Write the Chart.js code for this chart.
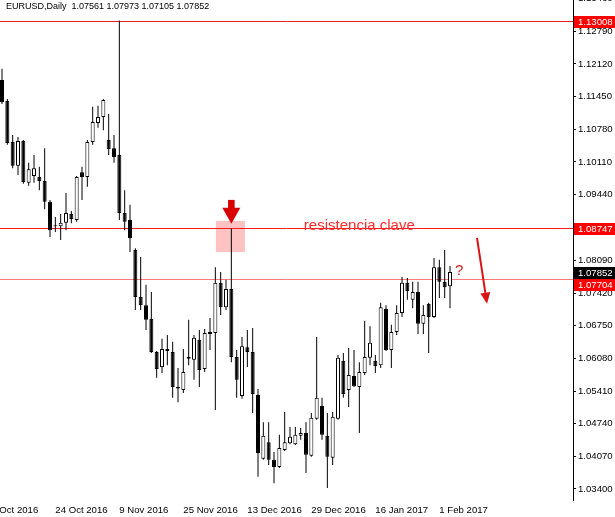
<!DOCTYPE html>
<html>
<head>
<meta charset="utf-8">
<title>EURUSD,Daily</title>
<script src="https://cdn.jsdelivr.net/npm/chart.js@4.4.0/dist/chart.umd.min.js"></script>
<style>
  html, body { margin: 0; padding: 0; background: #fff; }
  canvas { display: block; }
</style>
</head>
<body>
<canvas id="myChart" width="615" height="517"></canvas>
<script>
// EURUSD diario, velas (10 oct 2016 - 3 feb 2017)
let symbol = 'EURUSD,Daily';
let dates = [
  '2016.10.10','2016.10.11','2016.10.12','2016.10.13','2016.10.14',
  '2016.10.17','2016.10.18','2016.10.19','2016.10.20','2016.10.21',
  '2016.10.24','2016.10.25','2016.10.26','2016.10.27','2016.10.28',
  '2016.10.31','2016.11.01','2016.11.02','2016.11.03','2016.11.04',
  '2016.11.07','2016.11.08','2016.11.09','2016.11.10','2016.11.11',
  '2016.11.14','2016.11.15','2016.11.16','2016.11.17','2016.11.18',
  '2016.11.21','2016.11.22','2016.11.23','2016.11.24','2016.11.25',
  '2016.11.28','2016.11.29','2016.11.30','2016.12.01','2016.12.02',
  '2016.12.05','2016.12.06','2016.12.07','2016.12.08','2016.12.09',
  '2016.12.12','2016.12.13','2016.12.14','2016.12.15','2016.12.16',
  '2016.12.19','2016.12.20','2016.12.21','2016.12.22','2016.12.23',
  '2016.12.26','2016.12.27','2016.12.28','2016.12.29','2016.12.30',
  '2017.01.02','2017.01.03','2017.01.04','2017.01.05','2017.01.06',
  '2017.01.09','2017.01.10','2017.01.11','2017.01.12','2017.01.13',
  '2017.01.16','2017.01.17','2017.01.18','2017.01.19','2017.01.20',
  '2017.01.23','2017.01.24','2017.01.25','2017.01.26','2017.01.27',
  '2017.01.30','2017.01.31','2017.02.01','2017.02.02','2017.02.03'
];
let open = [
  1.1179,1.1136,1.1052,1.1003,1.1054, 1.0968,1.0982,1.0980,1.0972,1.0929,
  1.0881,1.0879,1.0886,1.0904,1.0892, 1.0990,1.0980,1.1052,1.1091,1.1103,
  1.1056,1.1039,1.1025,1.0906,1.0892, 1.0830,1.0734,1.0717,1.0689,1.0621,
  1.0590,1.0627,1.0621,1.0549,1.0543, 1.0607,1.0605,1.0646,1.0586,1.0658,
  1.0660,1.0763,1.0713,1.0750,1.0611, 1.0531,1.0631,1.0621,1.0533,1.0402,
  1.0436,1.0400,1.0385,1.0420,1.0434, 1.0432,1.0449,1.0455,1.0408,1.0484,
  1.0510,1.0449,1.0404,1.0484,1.0603, 1.0543,1.0572,1.0549,1.0578,1.0609,
  1.0603,1.0594,1.0709,1.0625,1.0662, 1.0701,1.0763,1.0728,1.0744,1.0679,
  1.0720,1.0693,1.0795,1.0765,1.07561
];
let high = [
  1.1202,1.1140,1.1066,1.1062,1.1056, 1.1009,1.1025,1.1001,1.1039,1.0933,
  1.0898,1.0904,1.0947,1.0910,1.0982, 1.1001,1.1056,1.1124,1.1126,1.1140,
  1.1109,1.1066,1.13008,1.0953,1.0923, 1.0834,1.0816,1.0759,1.0744,1.0623,
  1.0648,1.0656,1.0642,1.0588,1.0627, 1.0687,1.0656,1.0666,1.0668,1.0691,
  1.0795,1.0785,1.0769,1.08747,1.0625, 1.0652,1.0666,1.0670,1.0545,1.0477,
  1.0477,1.0416,1.0451,1.0498,1.0467, 1.0467,1.0465,1.0477,1.0496,1.0652,
  1.0527,1.0496,1.0498,1.0615,1.0619, 1.0629,1.0625,1.0600,1.0685,1.0674,
  1.0615,1.0722,1.0717,1.0677,1.0717, 1.0775,1.0773,1.0765,1.0765,1.0717,
  1.0722,1.0814,1.0810,1.0830,1.07973
];
let low = [
  1.1130,1.1046,1.0998,1.0984,1.0966, 1.0962,1.0968,1.0953,1.0914,1.0857,
  1.0867,1.0851,1.0871,1.0885,1.0888, 1.0933,1.0960,1.1046,1.1081,1.1076,
  1.1025,1.1009,1.0892,1.0871,1.0826, 1.0707,1.0707,1.0666,1.0619,1.0568,
  1.0578,1.0594,1.0527,1.0518,1.0537, 1.0594,1.0564,1.0549,1.0580,1.0625,
  1.0502,1.0697,1.0707,1.0600,1.0527, 1.0525,1.0590,1.0496,1.0365,1.0400,
  1.0389,1.0352,1.0383,1.0418,1.0432, 1.0430,1.0441,1.0373,1.0406,1.0482,
  1.0441,1.0342,1.0389,1.0482,1.0527, 1.0508,1.0549,1.0455,1.0574,1.0594,
  1.0578,1.0588,1.0623,1.0588,1.0656, 1.0693,1.0728,1.0711,1.0658,1.0658,
  1.0619,1.0691,1.0732,1.0732,1.07105
];
let close = [
  1.1134,1.1050,1.1003,1.1054,1.0970, 1.0996,1.0998,1.0972,1.0929,1.0871,
  1.0879,1.0886,1.0906,1.0894,1.0980, 1.0980,1.1052,1.1093,1.1103,1.1138,
  1.1037,1.1021,1.0906,1.0888,1.0855, 1.0734,1.0717,1.0687,1.0621,1.0586,
  1.0627,1.0623,1.0549,1.0546,1.0580, 1.0611,1.0650,1.0584,1.0660,1.0662,
  1.0763,1.0713,1.0750,1.0611,1.0564, 1.0633,1.0621,1.0535,1.0414,1.0449,
  1.0400,1.0385,1.0424,1.0436,1.0447, 1.0451,1.0455,1.0410,1.0486,1.0527,
  1.0451,1.0406,1.0488,1.0609,1.0535, 1.0574,1.0551,1.0580,1.0611,1.0640,
  1.0592,1.0713,1.0625,1.0662,1.0701, 1.0763,1.0746,1.0744,1.0679,1.0697,
  1.0693,1.0795,1.0765,1.0754,1.07852
];
// escala de precios (eje derecho) y fechas del eje inferior
let yTicks = [1.03400,1.04070,1.04740,1.05410,1.06080,1.06750,1.07420,1.08090,
              1.09440,1.10110,1.10780,1.11450,1.12120,1.12790,1.13460];
let xTickPos = [-2, 10, 22, 34, 46, 58, 70, 82]; // numero de vela (0 = 10 Oct)
let xTickLabels = ['6 Oct 2016','24 Oct 2016','9 Nov 2016','25 Nov 2016',
                   '13 Dec 2016','29 Dec 2016','16 Jan 2017','1 Feb 2017'];
// lineas horizontales dibujadas en el grafico
let levels = [1.13008, 1.08747, 1.07704];
let levelColors = ['#e8201a', '#ff1a1a', '#ff7a7a'];

let last = close.length - 1;
let font = '"Liberation Sans", Arial, sans-serif';

let overlays = {
  id: 'overlays',
  beforeDatasetsDraw(chart) {
    let {ctx, chartArea: a} = chart;
    let x = chart.scales.x, y = chart.scales.y;
    ctx.save();
    ctx.beginPath();
    ctx.rect(a.left, a.top, a.right - a.left, a.bottom - a.top);
    ctx.clip();
    // zona rosa sobre la vela del 8 dic
    let x0 = x.getPixelForValue(40.1), x1 = x.getPixelForValue(45.55);
    let y0 = y.getPixelForValue(1.0890), y1 = y.getPixelForValue(1.0826);
    ctx.fillStyle = '#ffc2c2';
    ctx.fillRect(x0, y0, x1 - x0, y1 - y0);
    ctx.lineWidth = 1;
    levels.forEach((v, i) => {
      let py = Math.round(y.getPixelForValue(v)) + 0.5;
      ctx.strokeStyle = levelColors[i];
      ctx.beginPath();
      ctx.moveTo(a.left, py);
      ctx.lineTo(a.right, py);
      ctx.stroke();
    });
    ctx.restore();
  },
  afterDatasetsDraw(chart) {
    let {ctx} = chart;
    let x = chart.scales.x, y = chart.scales.y;
    ctx.save();
    // flecha hacia abajo
    let ax = x.getPixelForValue(43);
    let yTail = y.getPixelForValue(1.0933), yBase = y.getPixelForValue(1.0917), yTip = y.getPixelForValue(1.0884);
    ctx.fillStyle = '#d90000';
    ctx.fillRect(ax - 3.3, yTail, 6.6, yBase - yTail + 0.5);
    ctx.beginPath();
    ctx.moveTo(ax - 9, yBase);
    ctx.lineTo(ax + 9, yBase);
    ctx.lineTo(ax, yTip);
    ctx.closePath();
    ctx.fill();
    // flecha diagonal
    let sx = x.getPixelForValue(89.06), sy = y.getPixelForValue(1.0855);
    let ex = x.getPixelForValue(90.94), ey = y.getPixelForValue(1.0720);
    let ang = Math.atan2(ey - sy, ex - sx), hl = 11, hw = 5;
    let bx = ex - hl * Math.cos(ang), by = ey - hl * Math.sin(ang);
    ctx.strokeStyle = '#d81414';
    ctx.fillStyle = '#d81414';
    ctx.lineWidth = 2;
    ctx.beginPath();
    ctx.moveTo(sx, sy);
    ctx.lineTo(bx, by);
    ctx.stroke();
    ctx.beginPath();
    ctx.moveTo(ex, ey);
    ctx.lineTo(bx + hw * Math.sin(ang), by - hw * Math.cos(ang));
    ctx.lineTo(bx - hw * Math.sin(ang), by + hw * Math.cos(ang));
    ctx.closePath();
    ctx.fill();
    // textos
    ctx.font = '15px ' + font;
    ctx.textBaseline = 'alphabetic';
    ctx.textAlign = 'left';
    ctx.fillStyle = '#ff2d2d';
    ctx.fillText('resistencia clave', x.getPixelForValue(56.6), y.getPixelForValue(1.0871));
    ctx.fillStyle = '#d62020';
    ctx.fillText('?', x.getPixelForValue(84.95), y.getPixelForValue(1.0779));
    ctx.restore();
  },
  afterDraw(chart) {
    let {ctx, chartArea: a} = chart;
    let y = chart.scales.y;
    ctx.save();
    // cabecera
    ctx.fillStyle = '#000';
    ctx.font = '9px ' + font;
    ctx.textBaseline = 'middle';
    ctx.textAlign = 'left';
    let ohlc = [open[last], high[last], low[last], close[last]].map(v => v.toFixed(5)).join(' ');
    ctx.fillText(symbol + '  ' + ohlc, 6, 7);
    // etiquetas de precio en el eje
    let tags = [[levels[0], '#ff0000'], [levels[1], '#ff0000'], [close[last], '#000000'], [levels[2], '#ff0000']]
      .map(t => ({v: t[0], c: t[1], py: y.getPixelForValue(t[0])}))
      .sort((p, q) => p.py - q.py);
    let prev = -99;
    ctx.font = '9.6px ' + font;
    tags.forEach(t => {
      let top = Math.round(t.py) - 5;
      if (top < prev) top = prev;
      ctx.fillStyle = t.c;
      ctx.fillRect(a.right + 1, top, chart.width - a.right - 1, 12);
      ctx.fillStyle = '#fff';
      ctx.fillText(t.v.toFixed(5), a.right + 5, top + 6.5);
      prev = top + 12;
    });
    ctx.restore();
  }
};

Chart.defaults.font.family = font;
Chart.defaults.color = '#000';

let ctx = document.getElementById('myChart').getContext('2d');
let chart = new Chart(ctx, {
  type: 'bar',
  data: {
    datasets: [
      { // cuerpos
        label: 'cuerpo',
        data: dates.map((d, i) => ({x: i, y: [open[i], close[i]]})),
        backgroundColor: close.map((c, i) => c >= open[i] ? '#ffffff' : '#000000'),
        borderColor: '#000',
        borderWidth: 1,
        borderSkipped: false,
        barThickness: 4,
        inflateAmount: 0,
        grouped: false,
        order: 0
      },
      { // mechas
        label: 'mecha',
        data: dates.map((d, i) => ({x: i, y: [low[i], high[i]]})),
        backgroundColor: '#000',
        borderWidth: 0,
        barThickness: 1,
        inflateAmount: 0,
        grouped: false,
        order: 1
      }
    ]
  },
  options: {
    responsive: false,
    animation: false,
    events: [],
    layout: { padding: 0 },
    plugins: { legend: { display: false }, tooltip: { enabled: false }, title: { display: false } },
    scales: {
      x: {
        type: 'linear',
        offset: false,
        min: -0.375,
        max: 107.06,
        grid: { display: false },
        border: { display: false },
        ticks: {
          align: 'start',
          autoSkip: false,
          maxRotation: 0,
          minRotation: 0,
          padding: -3,
          font: { size: 9.6 },
          callback: (v, i) => xTickLabels[i]
        },
        afterBuildTicks: s => { s.ticks = xTickPos.map(v => ({value: v})); },
        afterFit: s => { s.height = 17; s.paddingLeft = 0; s.paddingRight = 0; }
      },
      y: {
        type: 'linear',
        position: 'right',
        min: 1.03174,
        max: 1.13431,
        grid: { drawOnChartArea: false, drawTicks: true, tickLength: 3, color: '#000' },
        border: { display: true, color: '#000', width: 1 },
        ticks: {
          autoSkip: false,
          padding: 2,
          font: { size: 9.6 },
          callback: v => v.toFixed(5)
        },
        afterBuildTicks: s => { s.ticks = yTicks.map(v => ({value: v})); },
        afterFit: s => { s.width = 42; s.paddingTop = 0; s.paddingBottom = 0; }
      }
    }
  },
  plugins: [overlays]
});
</script>
</body>
</html>
